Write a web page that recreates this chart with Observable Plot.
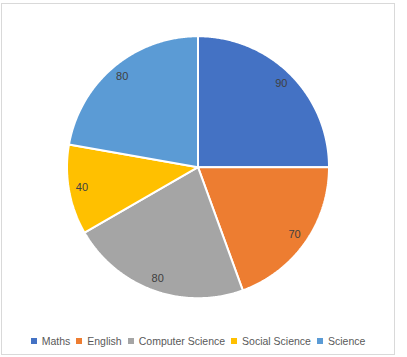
<!DOCTYPE html>
<html>
<head>
<meta charset="utf-8">
<script src="https://cdn.jsdelivr.net/npm/d3@7"></script>
<script src="https://cdn.jsdelivr.net/npm/@observablehq/plot@0.6"></script>
<style>
  html, body { margin: 0; padding: 0; background: #fff; }
  #wrap { position: relative; width: 407px; height: 357px; font-family: "Liberation Sans", Arial, sans-serif; }
  #frame { position: absolute; left: 1px; top: 3px; width: 392px; height: 350px; border: 1px solid #d9d9d9; box-sizing: content-box; }
  #chart { position: absolute; left: 0; top: 0; }
  #legend { position: absolute; left: 1px; width: 394px; top: 335px; display: flex; justify-content: center; align-items: center; font-size: 10.5px; color: #595959; white-space: nowrap; }
  .item { display: flex; align-items: center; margin: 0 3px; }
  .sw { width: 6px; height: 6px; margin-right: 5px; display: inline-block; }
</style>
</head>
<body>
<div id="wrap">
  <div id="frame"></div>
  <div id="chart"></div>
  <div id="legend"></div>
</div>
<script>
const subjects = ["Maths", "English", "Computer Science", "Social Science", "Science"];
const marks = [90, 70, 80, 40, 80];
const colors = ["#4472C4", "#ED7D31", "#A5A5A5", "#FFC000", "#5B9BD5"];

const records = subjects.map((s, i) => ({subject: s, value: marks[i]}));
const arcs = d3.pie().sort(null).value(d => d.value).startAngle(0).endAngle(2 * Math.PI)(records);

// polygon outline of each slice, in unit-circle coordinates (y up)
const outline = [];
for (const a of arcs) {
  const s = a.data.subject;
  outline.push({subject: s, x: 0, y: 0});
  const steps = Math.max(2, Math.ceil((a.endAngle - a.startAngle) / (Math.PI / 360)));
  for (let k = 0; k <= steps; k++) {
    const t = a.startAngle + (a.endAngle - a.startAngle) * k / steps;
    outline.push({subject: s, x: Math.sin(t), y: Math.cos(t)});
  }
  outline.push({subject: s, x: 0, y: 0});
}
const labels = arcs.map(a => {
  const m = (a.startAngle + a.endAngle) / 2;
  return {subject: a.data.subject, value: a.data.value, x: 0.9 * Math.sin(m), y: 0.9 * Math.cos(m)};
});

const W = 407, H = 325, cx = 197.5, cy = 166.7, r = 131;
const chart = Plot.plot({
  width: W,
  height: H,
  marginLeft: cx - r,
  marginRight: W - (cx + r),
  marginTop: cy - r,
  marginBottom: H - (cy + r),
  x: {domain: [-1, 1], axis: null},
  y: {domain: [-1, 1], axis: null},
  color: {domain: subjects, range: colors},
  style: {background: "transparent", fontFamily: "Liberation Sans, Arial, sans-serif"},
  marks: [
    Plot.line(outline, {x: "x", y: "y", z: "subject", fill: "subject", stroke: "white", strokeWidth: 2, strokeLinejoin: "miter", curve: "linear"}),
    Plot.text(labels, {x: "x", y: "y", text: d => String(d.value), fill: "#404040", fontSize: 11})
  ]
});
document.getElementById("chart").appendChild(chart);

const legend = document.getElementById("legend");
subjects.forEach((s, i) => {
  const item = document.createElement("span");
  item.className = "item";
  const sw = document.createElement("span");
  sw.className = "sw";
  sw.style.background = colors[i];
  item.appendChild(sw);
  item.appendChild(document.createTextNode(s));
  legend.appendChild(item);
});
</script>
</body>
</html>
